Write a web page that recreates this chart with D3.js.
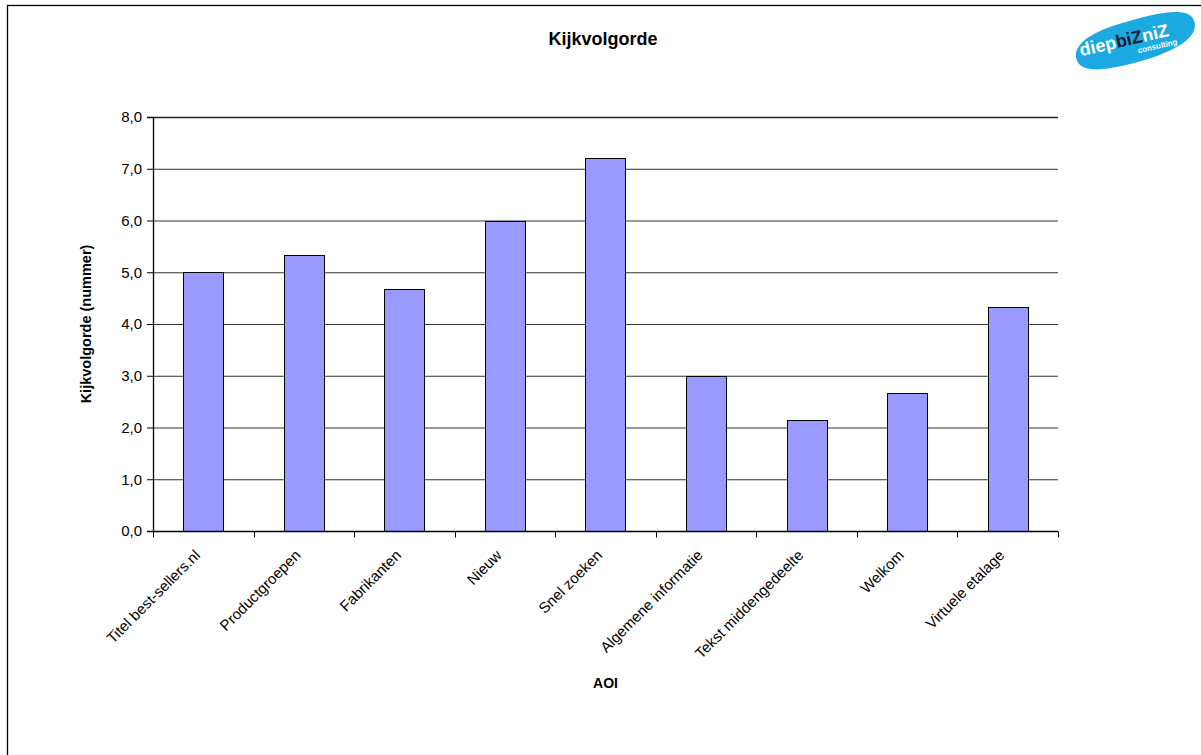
<!DOCTYPE html>
<html>
<head>
<meta charset="utf-8">
<script src="https://cdn.jsdelivr.net/npm/d3@7"></script>
<style>
  body { margin: 0; background: #fff; }
  svg { font-family: "Liberation Sans", Arial, sans-serif; }
  .tick text { font-size: 15px; fill: #000; }
</style>
</head>
<body>
<svg width="1201" height="755"></svg>
<script>
const categories = ["Titel best-sellers.nl", "Productgroepen", "Fabrikanten", "Nieuw", "Snel zoeken",
  "Algemene informatie", "Tekst middengedeelte", "Welkom", "Virtuele etalage"];
const values = [5.0, 5.33, 4.67, 6.0, 7.2, 3.0, 2.14, 2.67, 4.33];
const yTicks = [0, 1, 2, 3, 4, 5, 6, 7, 8];

const margin = { top: 117, right: 143, bottom: 224, left: 153 };
const width = 1201 - margin.left - margin.right;
const height = 755 - margin.top - margin.bottom;

const root = d3.select("svg");

// outer frame (runs off the right and bottom edge)
root.append("rect")
  .attr("x", 7.5).attr("y", 5.5)
  .attr("width", 1400).attr("height", 900)
  .attr("fill", "none").attr("stroke", "#000").attr("stroke-width", 1.3);

root.append("text")
  .attr("x", 603).attr("y", 45)
  .attr("text-anchor", "middle")
  .style("font-size", "18px").style("font-weight", "bold")
  .text("Kijkvolgorde");

const svg = root.append("g").attr("transform", `translate(${margin.left},${margin.top})`);

const x = d3.scaleBand().domain(categories).range([0, width]).paddingInner(0.6).paddingOuter(0.3);
const y = d3.scaleLinear().domain([0, 8]).range([height, 0]);

// gridlines
svg.append("g").selectAll("line").data(yTicks.slice(1)).join("line")
  .attr("x1", 0).attr("x2", width)
  .attr("y1", d => y(d) + 0.5).attr("y2", d => y(d) + 0.5)
  .attr("stroke", d => d === 8 ? "#222" : "#333").attr("stroke-width", d => d === 8 ? 1.6 : 1);

svg.selectAll(".bar").data(values).join("rect")
  .attr("class", "bar")
  .attr("x", (d, i) => Math.round(x(categories[i])) + 0.5)
  .attr("width", Math.round(x.bandwidth()))
  .attr("y", d => Math.round(y(d)) + 0.5)
  .attr("height", d => Math.round(y(0)) - Math.round(y(d)))
  .attr("fill", "#9999FF").attr("stroke", "#000").attr("stroke-width", 1);

// y axis
const yAxis = svg.append("g")
  .call(d3.axisLeft(y).tickValues(yTicks).tickSize(6).tickPadding(5)
    .tickFormat(d => d3.format(".1f")(d).replace(".", ",")));
yAxis.select(".domain").attr("stroke", "#000").attr("stroke-width", 1.3);

// x axis: ticks on band boundaries
const step = width / categories.length;
const xb = svg.append("g").attr("transform", `translate(0,${height + 0.5})`);
xb.append("line").attr("x1", 0).attr("x2", width).attr("stroke", "#000").attr("stroke-width", 1.3);
xb.selectAll(".xt").data(d3.range(categories.length + 1)).join("line")
  .attr("class", "xt")
  .attr("x1", i => Math.round(i * step) + 0.5).attr("x2", i => Math.round(i * step) + 0.5)
  .attr("y1", 0).attr("y2", 6).attr("stroke", "#000");
xb.selectAll(".xl").data(categories).join("text")
  .attr("class", "xl")
  .attr("transform", d => `translate(${x(d) + x.bandwidth() / 2 - 6},${21}) rotate(-45)`)
  .attr("text-anchor", "end")
  .attr("dy", "0.35em")
  .style("font-size", "15px")
  .text(d => d);

svg.append("text")
  .attr("x", width / 2).attr("y", height + 157)
  .attr("text-anchor", "middle")
  .style("font-size", "14px").style("font-weight", "bold")
  .text("AOI");

svg.append("text")
  .attr("transform", "rotate(-90)")
  .attr("x", -height / 2).attr("y", -62)
  .attr("text-anchor", "middle")
  .style("font-size", "14.5px").style("font-weight", "bold")
  .text("Kijkvolgorde (nummer)");

// logo
const logo = root.append("g").attr("transform", "translate(1134,41) rotate(-13)");
logo.append("path")
  .attr("d", "M-60,6 C-62,-10 -40,-18 -10,-20 C25,-22 60,-23 63,-7 C66,10 40,19 5,21 C-30,23 -58,21 -60,6 Z")
  .attr("fill", "#1ba9e1");
logo.append("text").attr("x", -55).attr("y", 3)
  .style("font-size", "18px").style("font-weight", "bold").attr("fill", "#fff")
  .html('diep<tspan fill="#1a1a2e">biZ</tspan>niZ');
logo.append("text").attr("x", 42).attr("y", 13)
  .attr("text-anchor", "end")
  .style("font-size", "8px").style("font-weight", "bold").attr("fill", "#fff")
  .text("consulting");
</script>
</body>
</html>
